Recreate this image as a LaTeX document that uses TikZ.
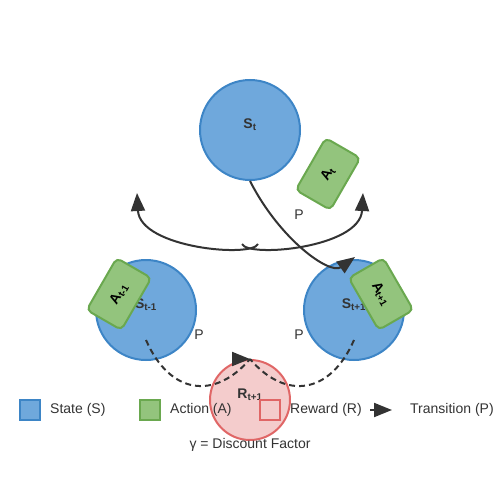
\documentclass[tikz,border=0pt]{standalone}
\usepackage{fontspec}
\setmainfont{Liberation Sans}
\usepackage{tikz}
\usetikzlibrary{arrows.meta, positioning, calc}
\definecolor{stfill}{HTML}{6FA8DC}
\definecolor{stdraw}{HTML}{3D85C6}
\definecolor{acfill}{HTML}{93C47D}
\definecolor{acdraw}{HTML}{6AA84F}
\definecolor{rwfill}{HTML}{F4CCCC}
\definecolor{rwdraw}{HTML}{E06666}
\definecolor{ink}{HTML}{333333}
\tikzset{
    statec/.style={circle, draw=stdraw, fill=stfill, line width=2pt, minimum size=100pt, inner sep=0pt},
    rewc/.style={circle, draw=rwdraw, fill=rwfill, line width=2pt, minimum size=80pt, inner sep=0pt},
    actbox/.style={rectangle, rounded corners=5pt, draw=acdraw, fill=acfill, line width=2pt,
      minimum width=60pt, minimum height=40pt, inner sep=0pt, font=\fontsize{14pt}{16pt}\selectfont\bfseries},
    lbl/.style={inner sep=0pt, text=ink, font=\fontsize{14pt}{16pt}\selectfont},
    blbl/.style={lbl, font=\fontsize{14pt}{16pt}\selectfont\bfseries},
    legsq/.style={rectangle, line width=2pt, minimum size=20pt, inner sep=0pt},
    trans/.style={draw=ink, line width=2pt, -{Triangle[length=18pt, width=14pt]}},
    dtrans/.style={draw=ink, line width=2pt, dash pattern=on 6pt off 4pt},
}
\begin{document}
\begin{tikzpicture}[x=1pt, y=-1pt]
    \tikzset{
      node distance=9pt,
      every label/.append style={blbl}
    }
    \path[use as bounding box] (0,0) rectangle (500,500);

    \node[statec, label={[yshift=5pt]center:S\textsubscript{t}}] (st) at (250,130) {};
    \node[statec, label={[yshift=5pt]center:S\textsubscript{t-1}}] (sprev) at (146,310) {};
    \node[statec, label={[yshift=5pt]center:S\textsubscript{t+1}}] (snext) at (354,310) {};
    \node[rewc, label={[yshift=5pt]center:R\textsubscript{t+1}}] (r) at (250,400) {};

    \node[actbox, rotate=60] (at) at (328,174) {A\textsubscript{t}};
    \node[actbox, rotate=60] (aprev) at (119,294) {A\textsubscript{t-1}};
    \node[actbox, rotate=-60] (anext) at (381,294) {A\textsubscript{t+1}};

    \coordinate (ml) at (258,244);
    \coordinate (mr) at (242,244);
    \coordinate (pl) at (137,193);
    \coordinate (pr) at (363,193);
    \draw[trans] (st.south) .. controls (280,240) and (330,275) .. ($(snext.north)+(1,-2)$);
    \draw[trans] (ml) .. controls (252,258) and (140,248) .. (pl);
    \draw[trans] (mr) .. controls (248,258) and (360,248) .. (pr);

    \draw[dtrans] ($(sprev)+(0,30)$) .. controls (170,395) and (215,400) .. (r.north);
    \draw[dtrans] ($(snext)+(0,30)$) .. controls (330,395) and (285,400) .. (r.north);
    \draw[trans] ($(r.north)+(-2,0)$) -- (r.north);

    \node[lbl] (p1) at (299,215) {P};
    \node[lbl] (p2) at (199,335) {P};
    \node[lbl] (p3) at (299,335) {P};

    \node[legsq, draw=stdraw, fill=stfill] (k1) at (30,410) {};
    \node[lbl, right=of k1] (t1) {State (S)};
    \node[legsq, draw=acdraw, fill=acfill] (k2) at (150,410) {};
    \node[lbl, right=of k2] (t2) {Action (A)};
    \node[legsq, draw=rwdraw] (k3) at (270,410) {};
    \node[lbl, right=of k3] (t3) {Reward (R)};
    \coordinate (k4a) at (370,410);
    \coordinate (k4b) at (392,410);
    \draw[trans] (k4a) -- (k4b);
    \node[lbl, anchor=west] (t4) at (410,410) {Transition (P)};
    \node[lbl] (gam) at (250,445) {γ = Discount Factor};
\end{tikzpicture}
\end{document}
